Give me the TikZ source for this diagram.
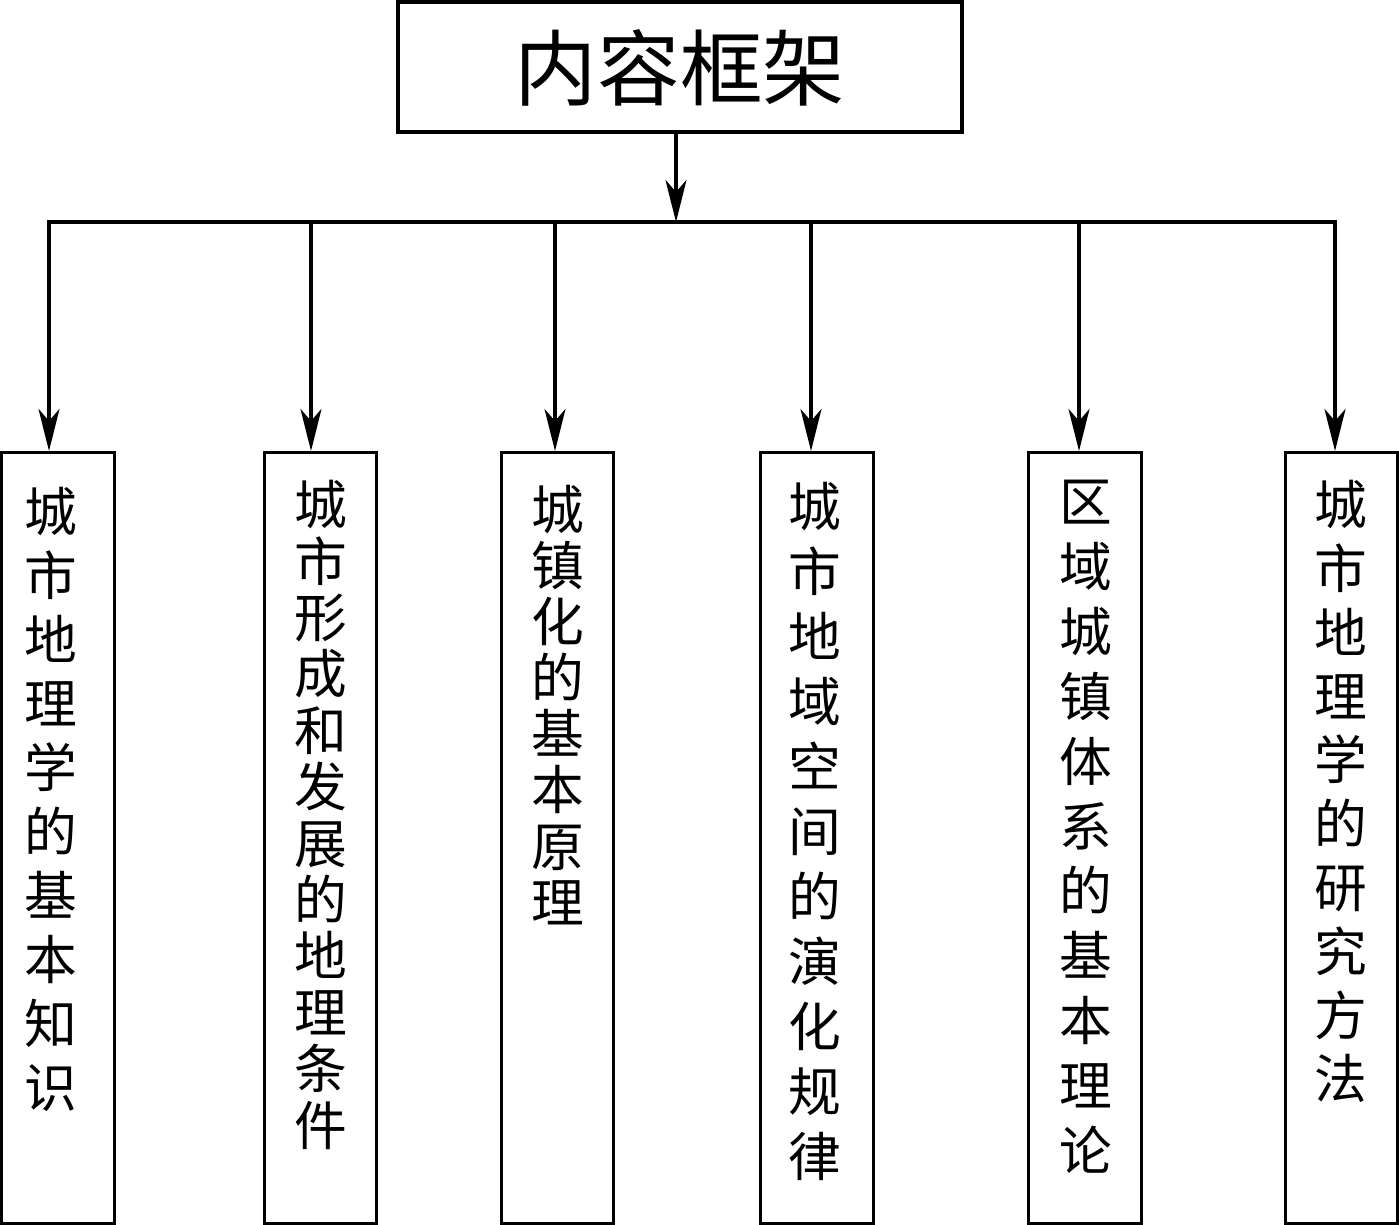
\documentclass[tikz,border=0pt]{standalone}
\usepackage{fontspec}
\newfontfamily\zhfont{Noto Sans CJK SC}
\usetikzlibrary{arrows.meta}
\tikzset{
  titlebox/.style={draw=black,line width=2pt,minimum width=11.28cm,minimum height=2.6cm,inner sep=0pt,text height=1.45cm,font=\zhfont\fontsize{47pt}{47pt}\selectfont},
  itembox/.style={draw=black,line width=1.8pt,minimum width=2.25cm,minimum height=15.42cm,anchor=north},
  itemtext/.style={anchor=north,inner sep=0pt,align=center,font=\zhfont\fontsize{30pt}{#1}\selectfont},
  busline/.style={line width=1.9pt,line cap=rect},
  downarrow/.style={-{Stealth[length=8.4mm,width=4.2mm,inset=2.4mm]},line width=1.8pt}
}
\begin{document}
\begin{tikzpicture}[x=1cm,y=1cm]
\useasboundingbox (0,0) rectangle (27.98,24.48);
% title and branch point
\node[titlebox] (top) at (13.6,23.14) {内容框架};
\coordinate (hub) at (13.52,20.04);
% the six parts
\node[itembox] (b1) at (1.16,15.46) {};
\node[itembox] (b2) at (6.41,15.46) {};
\node[itembox] (b3) at (11.15,15.46) {};
\node[itembox] (b4) at (16.34,15.46) {};
\node[itembox] (b5) at (21.7,15.46) {};
\node[itembox] (b6) at (26.83,15.46) {};
\node[itemtext=36.4pt] (t1) at (1.02,14.74) {城\\市\\地\\理\\学\\的\\基\\本\\知\\识};
\node[itemtext=32.1pt] (t2) at (6.41,14.88) {城\\市\\形\\成\\和\\发\\展\\的\\地\\理\\条\\件};
\node[itemtext=31.9pt] (t3) at (11.15,14.78) {城\\镇\\化\\的\\基\\本\\原\\理};
\node[itemtext=37pt] (t4) at (16.3,14.84) {城\\市\\地\\域\\空\\间\\的\\演\\化\\规\\律};
\node[itemtext=36.9pt] (t5) at (21.72,14.88) {区\\域\\城\\镇\\体\\系\\的\\基\\本\\理\\论};
\node[itemtext=36.3pt] (t6) at (26.82,14.88) {城\\市\\地\\理\\学\\的\\研\\究\\方\\法};
% connectors
\draw[downarrow] (top.south -| hub) -- (hub);
\foreach \n/\x in {1/0.98,2/6.22,3/11.1,4/16.22,5/21.58,6/26.7}{
  \coordinate (a\n) at (\x,20.04);
  \draw[downarrow] (a\n) -- (a\n |- b\n.north);
}
\draw[busline] (a1) -- (a6);
\end{tikzpicture}
\end{document}
